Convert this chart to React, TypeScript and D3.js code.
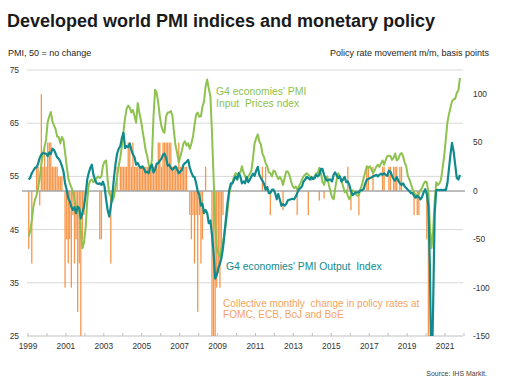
import React from 'react';
import * as d3 from 'd3';

const W = 506;
const H = 376;

// Monthly data, Jan 1999 .. Oct 2021
// G4 economies' PMI Output Index
const outputPMI: number[] = [
  // 1999
  54.4, 54.8, 55.6, 56.1, 56.6, 56.7, 57.4, 58.5, 59.1, 59.4, 59.3, 59.3,
  // 2000
  58.8, 59.5, 59.2, 60.2, 60.0, 59.3, 58.6, 58.3, 57.8, 57.0, 55.9, 53.7,
  // 2001
  52.5, 50.9, 50.3, 49.3, 48.7, 49.2, 48.1, 49.3, 49.0, 47.1, 48.1, 49.3,
  // 2002
  51.5, 54.4, 55.6, 56.6, 57.2, 55.3, 54.4, 53.7, 53.6, 53.7, 53.4, 54.0,
  // 2003
  53.1, 50.6, 48.7, 47.45, 49.3, 51.5, 54.7, 57.4, 59.3, 60.2, 60.7, 62.2,
  // 2004
  63.2, 60.3, 60.7, 60.5, 61.2, 60.0, 59.1, 58.6, 57.2, 57.5, 56.9, 56.6,
  // 2005
  56.9, 56.4, 55.75, 55.9, 55.6, 56.8, 57.2, 55.75, 56.25, 57.4, 57.5, 57.95,
  // 2006
  58.3, 59.1, 59.3, 58.5, 57.0, 57.2, 56.6, 56.25, 56.6, 56.9, 56.25, 55.6,
  // 2007
  55.9, 56.25, 57.2, 57.5, 57.75, 58.1, 56.6, 55.75, 55.0, 54.9, 53.7, 52.2,
  // 2008
  51.5, 49.5, 49.9, 48.1, 48.7, 48.1, 46.2, 46.7, 44.0, 40.8, 35.8, 36.4,
  // 2009
  37.7, 38.6, 39.6, 41.5, 44.3, 47.45, 50.3, 52.5, 53.7, 53.7, 54.4, 55.0,
  // 2010
  54.4, 55.6, 55.0, 53.7, 54.05, 53.7, 54.9, 53.9, 54.4, 55.0, 55.5, 55.1,
  // 2011
  56.1, 56.8, 55.3, 54.7, 54.2, 53.6, 52.5, 53.0, 51.85, 51.85, 52.5, 52.5,
  // 2012
  51.85, 50.7, 51.7, 50.6, 49.5, 49.8, 49.5, 49.8, 50.5, 50.6, 50.7, 50.8,
  // 2013
  50.7, 51.2, 51.85, 52.5, 52.8, 53.1, 54.05, 54.4, 54.9, 54.7, 54.4, 54.9,
  // 2014
  54.5, 54.7, 55.3, 55.0, 55.3, 56.4, 56.4, 55.3, 54.5, 54.2, 54.4, 54.4,
  // 2015
  54.05, 55.3, 55.75, 55.2, 54.7, 55.0, 54.05, 54.4, 54.9, 53.9, 54.05, 53.4,
  // 2016
  52.2, 51.5, 51.7, 52.0, 52.0, 52.0, 52.4, 52.4, 52.6, 53.6, 54.4, 54.5,
  // 2017
  54.7, 54.8, 55.0, 55.1, 55.3, 55.0, 55.3, 55.5, 55.3, 55.6, 55.3, 55.1,
  // 2018
  56.1, 55.9, 55.1, 54.5, 54.2, 54.9, 54.2, 53.7, 53.4, 53.7, 53.1, 52.8,
  // 2019
  52.5, 52.2, 51.85, 51.85, 51.35, 51.0, 51.35, 51.1, 50.7, 51.1, 52.0, 52.6,
  // 2020
  51.7, 49.3, 38.0, 15.0, 30.0, 48.0, 52.4, 52.5, 52.4, 52.5, 52.4, 52.5,
  // 2021
  52.4, 53.7, 56.25, 59.1, 61.3, 59.7, 57.2, 54.7, 54.4, 55.3,
];

// G4 economies' PMI Input Prices Index
const inputPricesPMI: number[] = [
  // 1999
  43.7, 44.9, 46.7, 49.3, 50.6, 51.5, 52.8, 54.7, 57.2, 59.3, 60.5, 61.9,
  // 2000
  65.2, 66.3, 67.1, 65.4, 64.6, 63.9, 62.5, 62.4, 61.2, 62.4, 61.8, 59.5,
  // 2001
  57.0, 54.7, 53.7, 53.0, 52.2, 50.6, 49.3, 49.3, 48.7, 44.6, 41.5, 42.6,
  // 2002
  45.3, 50.3, 53.4, 54.2, 54.4, 53.9, 54.2, 54.7, 55.0, 54.7, 55.0, 57.0,
  // 2003
  57.8, 58.0, 54.4, 51.85, 51.2, 50.3, 51.2, 53.1, 55.0, 56.9, 58.6, 60.7,
  // 2004
  63.5, 66.0, 67.7, 68.3, 67.9, 67.0, 67.5, 66.3, 65.1, 68.8, 67.0, 65.6,
  // 2005
  63.7, 61.8, 60.0, 58.9, 57.2, 56.25, 58.1, 66.3, 71.3, 70.7, 68.8, 66.3,
  // 2006
  64.4, 63.5, 63.2, 66.3, 67.0, 67.0, 67.3, 66.4, 63.2, 60.7, 59.4, 57.6,
  // 2007
  58.8, 59.9, 61.2, 61.6, 60.8, 61.2, 60.2, 61.2, 62.5, 64.7, 66.6, 67.0,
  // 2008
  66.2, 66.3, 68.1, 69.1, 71.9, 73.2, 71.5, 70.1, 63.2, 55.0, 46.2, 41.5,
  // 2009
  40.5, 39.9, 41.5, 42.4, 44.6, 46.5, 49.0, 51.85, 53.1, 53.9, 55.0, 55.6,
  // 2010
  55.3, 55.6, 55.75, 56.9, 55.75, 55.0, 54.5, 55.0, 55.5, 56.1, 58.5, 61.2,
  // 2011
  62.2, 62.9, 61.6, 61.0, 59.3, 58.6, 57.5, 56.9, 55.75, 55.6, 55.0, 56.1,
  // 2012
  55.9, 55.1, 54.5, 54.9, 54.4, 53.4, 54.7, 55.9, 55.9, 55.3, 54.2, 53.2,
  // 2013
  52.8, 53.1, 52.5, 53.1, 53.7, 54.4, 55.0, 55.3, 55.6, 55.3, 55.0, 54.4,
  // 2014
  54.7, 55.0, 55.6, 55.6, 56.6, 55.6, 54.05, 53.4, 54.7, 55.0, 53.4, 52.2,
  // 2015
  51.1, 50.7, 52.6, 54.4, 55.6, 55.0, 54.2, 53.2, 52.0, 52.4, 51.35, 50.7,
  // 2016
  51.5, 52.4, 52.2, 51.7, 51.35, 51.5, 52.6, 53.4, 54.7, 55.75, 56.9, 56.6,
  // 2017
  56.9, 56.25, 55.6, 56.1, 56.8, 57.2, 56.8, 57.4, 58.0, 57.2, 58.1, 58.8,
  // 2018
  58.9, 58.8, 58.1, 58.5, 59.3, 58.0, 58.3, 59.1, 59.4, 58.8, 57.6, 56.9,
  // 2019
  55.1, 54.4, 53.6, 52.6, 52.0, 51.5, 51.2, 51.7, 52.4, 52.8, 53.6, 54.05,
  // 2020
  53.9, 52.0, 45.6, 41.5, 44.6, 50.3, 53.9, 53.4, 53.7, 54.4, 56.6, 58.8,
  // 2021
  61.9, 65.1, 66.6, 67.9, 69.1, 69.5, 69.6, 70.7, 71.2, 73.5,
];

// Collective monthly change in policy rates (FOMC, ECB, BoJ, BoE), bp
const policyRateChange: number[] = [
  // 1999
  -60, 0, -75, 0, 0, 25, 25, -15, 100, 25, 45, 25,
  // 2000
  50, 50, 50, 25, 25, 25, 25, 15, 15, 15, 0, -100,
  // 2001
  -50, -75, -50, -100, -25, -75, -50, -125, -75, -175, -50, -25,
  // 2002
  0, 0, 0, 0, 0, 0, 0, 0, 0, -50, -50, 0,
  // 2003
  0, 0, 0, 0, -75, 0, 0, 0, 25, 0, 25, 25,
  // 2004
  25, 25, 25, 50, 50, 25, 50, 25, 25, 25, 25, 25,
  // 2005
  25, 25, 25, 25, 25, 25, 25, 25, 25, 25, 50, 50,
  // 2006
  25, 50, 50, 50, 50, 50, 50, 25, 25, 25, 25, 50,
  // 2007
  25, 25, 25, 25, 25, 0, -25, -50, -25, -75, -25, -125,
  // 2008
  -25, -75, -50, 0, 25, 0, 0, 0, -175, -200, -175, -100,
  // 2009
  -85, -100, -60, -25, 0, 0, 0, 0, 0, 0, 0, 0,
  // 2010
  0, 0, 0, 0, 0, 0, 0, 0, 0, 0, 0, 0,
  // 2011
  0, 0, 0, 0, 25, 0, 25, 0, 0, -25, 0, 0,
  // 2012
  0, 0, 0, 0, 0, -20, 0, 0, 0, 0, 0, 0,
  // 2013
  0, 0, -25, 0, 0, 0, 0, 0, 0, -25, 0, 0,
  // 2014
  0, 0, 0, 0, -10, 0, 0, -8, 0, 0, 0, 0,
  // 2015
  0, 0, 0, 0, 0, 0, 0, 0, 0, 0, 25, 0,
  // 2016
  -20, 0, 0, 0, 0, -25, 0, 0, 0, 0, 25, 25,
  // 2017
  0, 0, 25, 0, 0, 0, 0, 0, 25, 25, 0, 0,
  // 2018
  25, 25, 0, 25, 25, 25, 0, 25, 25, 0, 0, 0,
  // 2019
  0, 0, 0, 0, -25, 0, -25, -25, 0, 0, 0, 0,
  // 2020
  -50, -215, 0, 0, 0, 0, 0, 0, 0, 0, 0, 0,
  // 2021
  0, 0, 0, 0, 0, 0, 0, 0, 0, 0,
];

const leftTicks: number[] = [25, 35, 45, 55, 65, 75];
const rightTicks: number[] = [-150, -100, -50, 0, 50, 100];
const yearLabels: number[] = [1999, 2001, 2003, 2005, 2007, 2009, 2011, 2013, 2015, 2017, 2019, 2021];
const yearTicks: number[] = d3.range(1999, 2023);

const FONT = "'Liberation Sans', Arial, Helvetica, sans-serif";
const GREEN = '#8DC24E';
const TEAL = '#108A8C';
const ORANGE = '#F7964A';

export default function App() {
  const x = d3
    .scaleTime()
    .domain([new Date(1999, 0, 1), new Date(2022, 0, 1)])
    .range([28, 464]);
  const yL = d3.scaleLinear().domain([25, 75]).range([336, 70]);
  const yR = d3.scaleLinear().domain([-150, 125]).range([336, 70]);
  const monthDate = (i: number) => new Date(1999, i, 15);

  const line = d3
    .line<number>()
    .x((_, i) => x(monthDate(i)))
    .y((d) => yL(d));

  const barW = 1.3;
  const plotL = 27;
  const plotR = 463;
  const pre = { whiteSpace: 'pre' as const };

  return (
    <svg
      width={W}
      height={H}
      viewBox={`0 0 ${W} ${H}`}
      style={{ position: 'absolute', left: 0, top: 0, background: '#fff' }}
      fontFamily={FONT}
    >
      <defs>
        <clipPath id="plotClip">
          <rect x={18} y={60} width={452} height={276} />
        </clipPath>
      </defs>
      <rect x={0} y={0} width={W} height={H} fill="#fff" />

      {/* Title */}
      <text x={7} y={26.5} fontSize={18} fontWeight="bold" fill="#1a1a1a">
        Developed world PMI indices and monetary policy
      </text>
      <text x={8} y={56} fontSize={9} fill="#262626">
        PMI, 50 = no change
      </text>
      <text x={489} y={56} fontSize={9} fill="#262626" textAnchor="end">
        Policy rate movement m/m, basis points
      </text>

      {/* gridlines */}
      {leftTicks
        .filter((t) => t !== 25)
        .map((t) => (
          <line key={'g' + t} x1={plotL} x2={plotR} y1={yL(t)} y2={yL(t)} stroke="#D9D9D9" strokeWidth={1} />
        ))}
      {/* x axis */}
      <line x1={plotL} x2={plotR} y1={yL(25)} y2={yL(25)} stroke="#BFBFBF" strokeWidth={1} />
      {yearTicks.map((yr) => (
        <line
          key={'t' + yr}
          x1={x(new Date(yr, 0, 1))}
          x2={x(new Date(yr, 0, 1))}
          y1={yL(25) - 3}
          y2={yL(25)}
          stroke="#BFBFBF"
          strokeWidth={1}
        />
      ))}

      {/* bars */}
      <g clipPath="url(#plotClip)">
        {policyRateChange.map((v, i) =>
          v === 0 ? null : (
            <rect
              key={'b' + i}
              x={x(monthDate(i)) - barW / 2}
              y={Math.min(yR(v), yR(0))}
              width={barW}
              height={Math.abs(yR(v) - yR(0))}
              fill={ORANGE}
            />
          )
        )}
      </g>

      {/* zero line */}
      <line x1={22} x2={465} y1={yR(0)} y2={yR(0)} stroke="#A6A6A6" strokeWidth={1.5} />

      {/* lines */}
      <g clipPath="url(#plotClip)">
        <path d={line(inputPricesPMI) || ''} fill="none" stroke={GREEN} strokeWidth={2} strokeLinejoin="round" />
        <path d={line(outputPMI) || ''} fill="none" stroke={TEAL} strokeWidth={2.2} strokeLinejoin="round" />
      </g>

      {/* left axis labels */}
      {leftTicks.map((t) => (
        <text key={'l' + t} x={19} y={yL(t)} dy="0.35em" fontSize={8.4} fill="#333" textAnchor="end">
          {t}
        </text>
      ))}
      {/* right axis labels */}
      {rightTicks.map((t) => (
        <text key={'r' + t} x={473} y={yR(t)} dy="0.35em" fontSize={8.4} fill="#333">
          {t}
        </text>
      ))}
      {/* x labels */}
      {yearLabels.map((yr) => (
        <text key={'x' + yr} x={x(new Date(yr, 0, 1))} y={349} fontSize={8.4} fill="#333" textAnchor="middle">
          {yr}
        </text>
      ))}

      {/* annotations */}
      <text x={216} y={95} fontSize={10.4} fill={GREEN} style={pre}>
        G4 economies' PMI
      </text>
      <text x={216} y={106.5} fontSize={10.4} fill={GREEN} style={pre}>
        {'Input  Prices ndex'}
      </text>
      <text x={226} y={270} fontSize={10.4} fill={TEAL} style={pre}>
        {"G4 economies' PMI Output  Index"}
      </text>
      <text x={223} y={306.5} fontSize={10.1} fill="#F5A35E" style={pre}>
        {'Collective monthly  change in policy rates at'}
      </text>
      <text x={223} y={318} fontSize={10.1} fill="#F5A35E" style={pre}>
        FOMC, ECB, BoJ and BoE
      </text>

      <text x={487} y={375.5} fontSize={7} fill="#404040" textAnchor="end">
        Source: IHS Markit.
      </text>
    </svg>
  );
}
